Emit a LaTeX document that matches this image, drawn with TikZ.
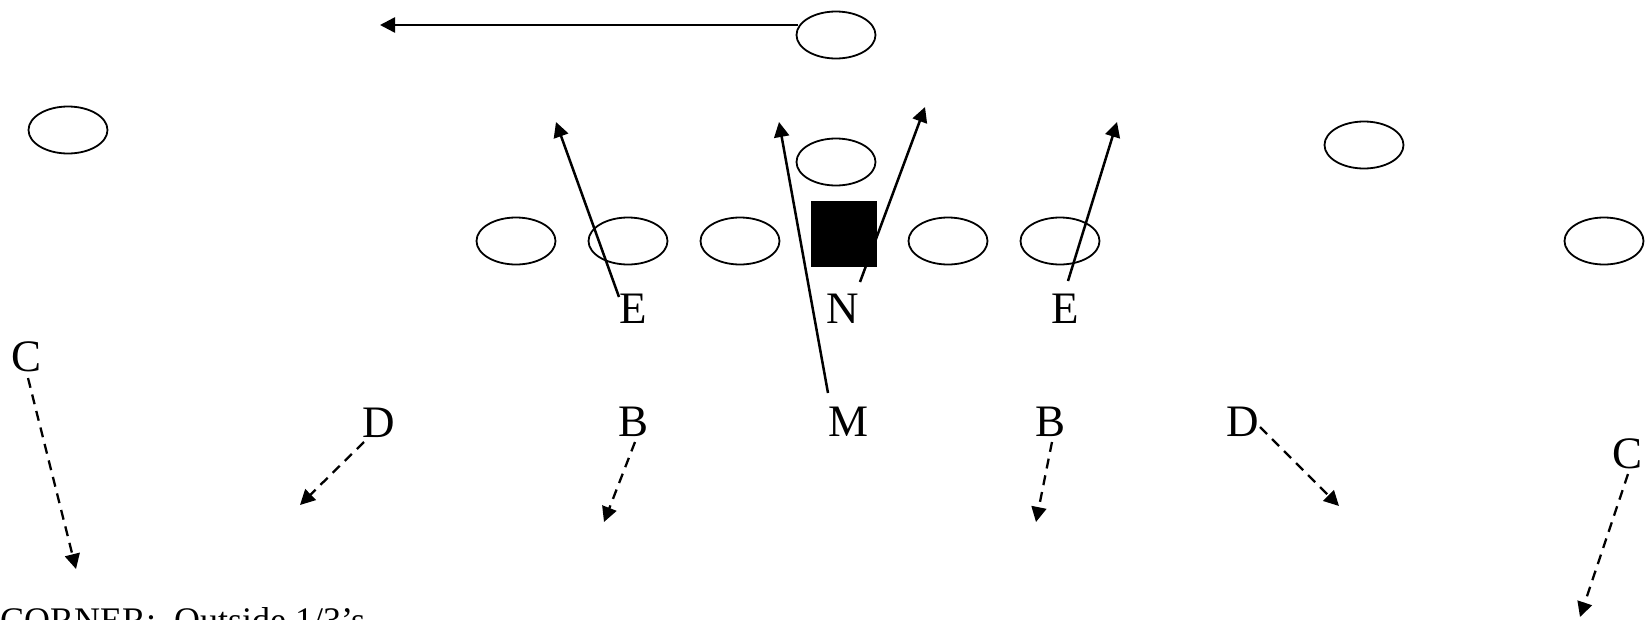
\documentclass[tikz,border=0pt]{standalone}
\usepackage{fontspec}
\setmainfont{Liberation Serif}
\usetikzlibrary{arrows.meta,shapes.geometric}
\begin{document}
\begin{tikzpicture}[x=1pt,y=-1pt,
  player/.style={draw, ellipse, line width=1.8pt, minimum width=79pt, minimum height=47pt, inner sep=0pt},
  snapbox/.style={fill=black, minimum size=66pt, inner sep=0pt},
  lbl/.style={font=\fontsize{45}{54}\selectfont, inner sep=0pt, anchor=base},
  note/.style={font=\fontsize{36}{43}\selectfont, inner sep=0pt, anchor=base west},
  run/.style={line width=2.5pt, -{Triangle[length=15pt,width=15pt]}},
  drop/.style={line width=2.3pt, dash pattern=on 10pt off 7pt, -{Triangle[length=15pt,width=15pt]}}
]
\useasboundingbox (0,0) rectangle (1650,619);

% offense
\node[player] (qbdeep) at (836,35) {};
\node[player] (wl) at (68,130) {};
\node[player] (qb) at (836,162) {};
\node[player] (t1) at (516,241) {};
\node[player] (t2) at (628,241) {};
\node[player] (t3) at (740,241) {};
\node[player] (t4) at (948,241) {};
\node[player] (t5) at (1060,241) {};
\node[player] (wr) at (1604,241) {};
\node[player] (sr) at (1364,145) {};

% labels
\node[lbl] (e1) at (633,323) {E};
\node[lbl] (n) at (843,323) {N};
\node[lbl] (e2) at (1065,323) {E};
\node[lbl] (c1) at (27,371) {C};
\node[lbl] (d1) at (379,437) {D};
\node[lbl] (b1) at (634,436) {B};
\node[lbl] (m) at (848,436) {M};
\node[lbl] (b2) at (1050,436) {B};
\node[lbl] (d2) at (1243,436) {D};
\node[lbl] (c2) at (1627,468) {C};
\node[note] (cap) at (0,632) {CORNER:\ \ Outside 1/3’s};

% coordinates for connector ends
\coordinate (topS) at (798,25);
\coordinate (topE) at (380,25);
\coordinate (e1S) at (619,297);
\coordinate (e1E) at (556,122);
\coordinate (mS) at (828,393);
\coordinate (mE) at (779,122);
\coordinate (nS) at (860,282);
\coordinate (nE) at (925,107);
\coordinate (e2S) at (1068,281);
\coordinate (e2E) at (1117,122);
\coordinate (c1S) at (28,378);
\coordinate (c1E) at (76,569);
\coordinate (d1S) at (364,442);
\coordinate (d1E) at (300,505);
\coordinate (b1S) at (635,442);
\coordinate (b1E) at (604,522);
\coordinate (b2S) at (1052,442);
\coordinate (b2E) at (1036,522);
\coordinate (d2S) at (1260,427);
\coordinate (d2E) at (1339,506);
\coordinate (c2S) at (1628,474);
\coordinate (c2E) at (1580,617);

% solid routes
\draw[run] (topS) -- (topE);
\draw[run] (e1S) -- (e1E);
\draw[run] (mS) -- (mE);
\draw[run] (nS) -- (nE);
\draw[run] (e2S) -- (e2E);

% center square on top of N route
\node[snapbox] (ctr) at (844,234) {};

% dashed drops
\draw[drop] (c1S) -- (c1E);
\draw[drop] (d1S) -- (d1E);
\draw[drop] (b1S) -- (b1E);
\draw[drop] (b2S) -- (b2E);
\draw[drop] (d2S) -- (d2E);
\draw[drop] (c2S) -- (c2E);
\end{tikzpicture}
\end{document}
